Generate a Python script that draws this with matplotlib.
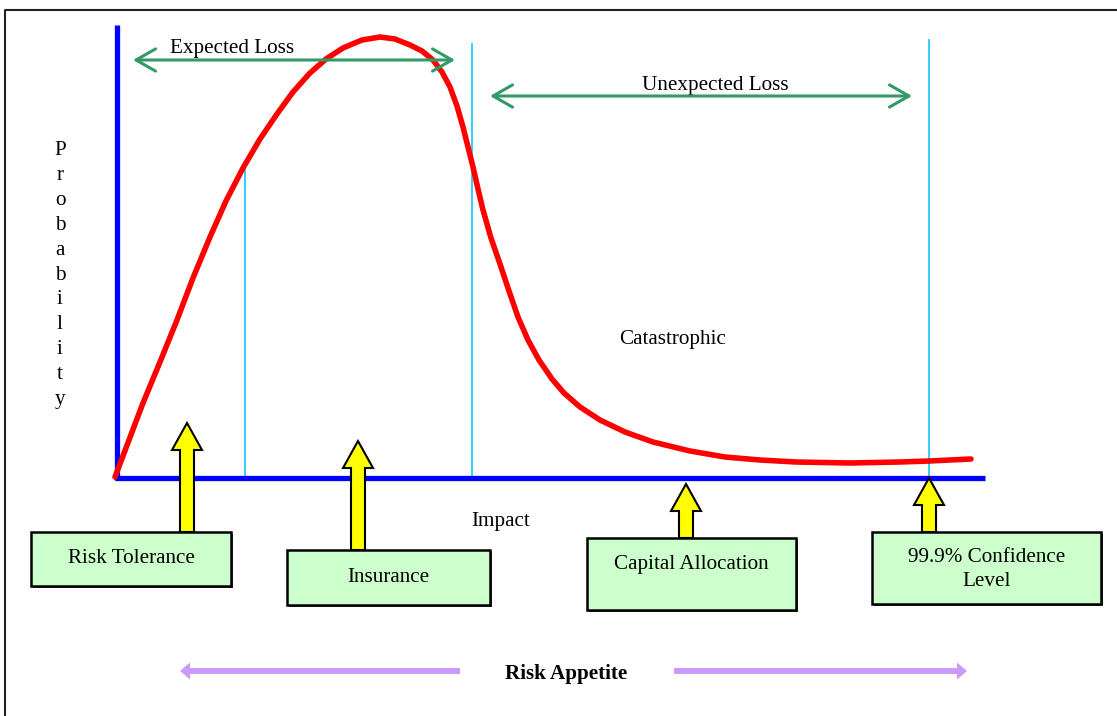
import matplotlib.pyplot as plt
from matplotlib.patches import FancyArrow, Rectangle

plt.rcParams['font.family'] = ['Liberation Serif', 'DejaVu Serif']

# loss distribution curve (pixel coords, y down)
curve_x = [115, 129, 143, 160, 177, 193, 210, 226, 243, 260, 277, 293, 310,
           326, 343, 362, 380, 395, 410, 422, 433, 442, 450, 457, 463, 468,
           473, 478, 483, 491, 500, 509, 518, 528, 539, 552, 564, 580, 600,
           625, 653, 690, 725, 760, 796, 850, 900, 929, 971]
curve_y = [477, 440, 403, 362, 320, 278, 237, 201, 168, 139, 114, 92, 73,
           59, 48, 40, 37, 39, 45, 51, 60, 72, 87, 106, 127, 147,
           167, 189, 210, 238, 264, 291, 317, 340, 360, 379, 393, 407, 420,
           432, 442, 451, 457, 460, 462, 463, 462, 461, 459]

# thin cyan markers: x, top
marker_x = [245, 472, 929]
marker_top = [170, 44, 40]

box_labels = ['Risk Tolerance', 'Insurance', 'Capital Allocation',
              '99.9% Confidence\nLevel']
box_left = [31, 287, 587, 872]
box_top = [532, 550, 538, 532]
box_right = [231, 490, 796, 1101]
box_bottom = [586, 605, 610, 604]
text_y = [556, 575, 562, 567]
arrow_x = [187, 358, 686, 929]
arrow_tip = [423, 441, 484, 478]

FS = 15.2
DY = 2.5  # baseline nudge, text sits a bit high with va='center'

fig = plt.figure(figsize=(11.17, 7.16), dpi=100)
ax = fig.add_axes([0, 0, 1, 1])
ax.set_xlim(0, 1117)
ax.set_ylim(716, 0)
ax.axis('off')

# frame (left and top edges only visible)
ax.plot([5, 5, 1117], [716, 10, 10], color='#222222', lw=1.5)

# cyan markers
for x, t in zip(marker_x, marker_top):
    ax.plot([x, x], [t, 480], color='#22ccff', lw=1.3, zorder=2)

# axes
ax.plot([117, 117], [25, 480], color='#0000ff', lw=3.8, solid_capstyle='butt', zorder=3)
ax.plot([115, 985], [478, 478], color='#0000ff', lw=3.8, solid_capstyle='butt', zorder=3)

# curve
ax.plot(curve_x, curve_y, color='#ff0000', lw=4.0, zorder=4,
        solid_capstyle='round', solid_joinstyle='round')

# green range arrows
arr = dict(arrowstyle='<->,head_length=0.7,head_width=0.4', color='#339966',
           lw=2.2, mutation_scale=20, shrinkA=0, shrinkB=0)
ax.annotate('', xy=(133, 60), xytext=(455, 60), arrowprops=arr, zorder=5)
ax.annotate('', xy=(490, 96), xytext=(912, 96), arrowprops=arr, zorder=5)
ax.text(232, 46 + DY, 'Expected Loss', fontsize=FS, ha='center', va='center')
ax.text(715, 83 + DY, 'Unexpected Loss', fontsize=FS, ha='center', va='center')

# vertical y label
for i, ch in enumerate('Probability'):
    ax.text(60, 148 + DY + i * 24.9, ch, fontsize=FS, ha='center', va='center')

ax.text(673, 337 + DY, 'Catastrophic', fontsize=FS, ha='center', va='center')
ax.text(501, 519 + DY, 'Impact', fontsize=FS, ha='center', va='center')

# boxes and yellow arrows
for lab, l, t, r, b, ty, ax_x, tip in zip(box_labels, box_left, box_top, box_right,
                                          box_bottom, text_y, arrow_x, arrow_tip):
    ax.add_patch(Rectangle((l + 2, t + 2), r - l, b - t, facecolor='#444444',
                           edgecolor='none', zorder=5))
    ax.add_patch(Rectangle((l, t), r - l, b - t, facecolor='#ccffcc',
                           edgecolor='black', lw=1.8, zorder=6))
    ax.text((l + r) / 2, ty + DY, lab, fontsize=FS, ha='center', va='center',
            zorder=7, linespacing=1.3)
    ax.add_patch(FancyArrow(ax_x, t, 0, tip - t, width=14, head_width=30,
                            head_length=27, length_includes_head=True,
                            facecolor='#ffff00', edgecolor='black', lw=1.5, zorder=5))

# risk appetite arrows
ax.add_patch(FancyArrow(460, 671, -280, 0, width=6, head_width=17, head_length=10,
                        length_includes_head=True, color='#cc99ff', lw=0))
ax.add_patch(FancyArrow(674, 671, 293, 0, width=6, head_width=17, head_length=10,
                        length_includes_head=True, color='#cc99ff', lw=0))
ax.text(566, 671 + DY, 'Risk Appetite', fontsize=FS, fontweight='bold',
        ha='center', va='center')

fig.savefig('out.png', dpi=100)
